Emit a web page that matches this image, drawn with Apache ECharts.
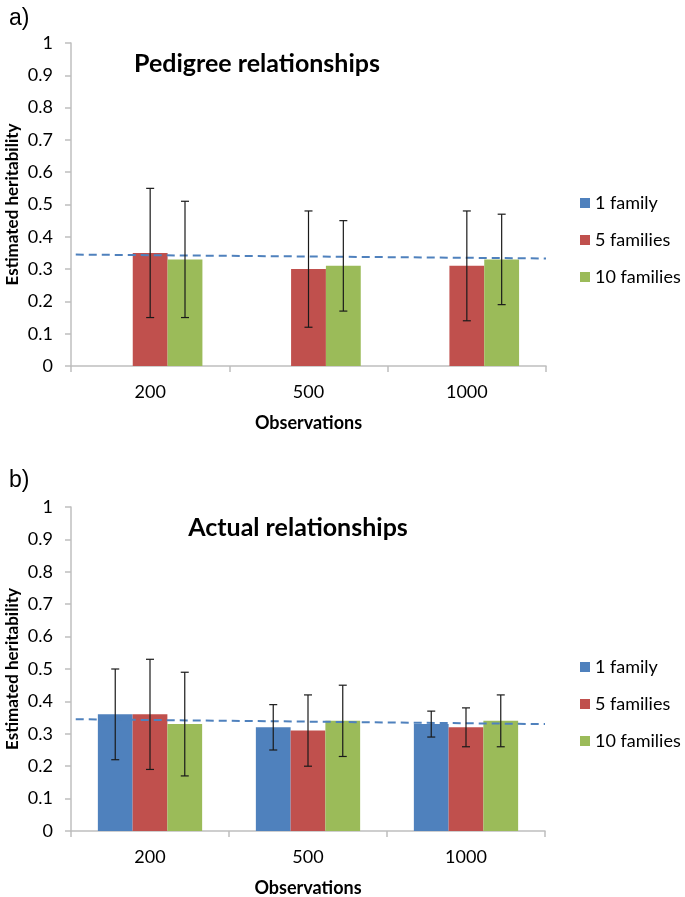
<!DOCTYPE html>
<html><head><meta charset="utf-8">
<script src="https://cdn.jsdelivr.net/npm/echarts@6/dist/echarts.min.js"></script>
<style>html,body{margin:0;padding:0;background:#fff}#c{width:685px;height:897px}</style>
</head><body><div id="c"></div>
<script>
const categories = ['200', '500', '1000'];
const seriesNames = ['1 family', '5 families', '10 families'];
const yTicks = [0, 0.1, 0.2, 0.3, 0.4, 0.5, 0.6, 0.7, 0.8, 0.9, 1];

// Panel a) Pedigree relationships
const pedOne = [null, null, null];
const pedFive = [0.35, 0.30, 0.31];
const pedTen = [0.33, 0.31, 0.33];
const pedOneLow = [null, null, null], pedOneHigh = [null, null, null];
const pedFiveLow = [0.15, 0.12, 0.14], pedFiveHigh = [0.55, 0.48, 0.48];
const pedTenLow = [0.15, 0.17, 0.19], pedTenHigh = [0.51, 0.45, 0.47];
const pedTrend = [0.345, 0.333];

// Panel b) Actual relationships
const actOne = [0.36, 0.32, 0.33];
const actFive = [0.36, 0.31, 0.32];
const actTen = [0.33, 0.34, 0.34];
const actOneLow = [0.22, 0.25, 0.29], actOneHigh = [0.50, 0.39, 0.37];
const actFiveLow = [0.19, 0.20, 0.26], actFiveHigh = [0.53, 0.42, 0.38];
const actTenLow = [0.17, 0.23, 0.26], actTenHigh = [0.49, 0.45, 0.42];
const actTrend = [0.345, 0.330];

const colors = ['#4F81BD', '#C0504D', '#9BBB59'];
const FONT = 'Lato';
const GAP = 0.34;

function errSeries(k, low, high, xi, yi) {
  const data = categories.map((c, i) => [i, low[i], high[i]]).filter(d => d[1] != null);
  return {
    type: 'custom', xAxisIndex: xi, yAxisIndex: yi, z: 10, silent: true,
    data: data,
    renderItem: function (params, api) {
      const ci = api.value(0);
      const lo = api.coord([ci, api.value(1)]);
      const hi = api.coord([ci, api.value(2)]);
      const bw = api.size([1, 0])[0];
      const barW = bw * (1 - GAP) / 3;
      const x = lo[0] + (k - 1) * barW;
      const cap = 4;
      const st = { stroke: '#1a1a1a', lineWidth: 1.2 };
      return { type: 'group', children: [
        { type: 'line', shape: { x1: x, y1: lo[1], x2: x, y2: hi[1] }, style: st },
        { type: 'line', shape: { x1: x - cap, y1: lo[1], x2: x + cap, y2: lo[1] }, style: st },
        { type: 'line', shape: { x1: x - cap, y1: hi[1], x2: x + cap, y2: hi[1] }, style: st }
      ]};
    }
  };
}

function barSeries(k, vals, xi, yi) {
  return { name: seriesNames[k], type: 'bar', xAxisIndex: xi, yAxisIndex: yi,
    data: vals, barGap: '0%', barCategoryGap: (GAP * 100) + '%',
    itemStyle: { color: colors[k] } };
}

function trendSeries(tr, xi, yi) {
  return { type: 'line', xAxisIndex: xi, yAxisIndex: yi, symbol: 'none', silent: true, z: 5,
    data: [[0.03, tr[0]], [3, tr[1]]],
    lineStyle: { color: '#4F81BD', width: 2, type: [8, 5] } };
}

const grids = [
  { left: 71, top: 43, width: 475, height: 323, containLabel: false, outerBoundsMode: 'none' },
  { left: 71, top: 507, width: 474, height: 324, containLabel: false, outerBoundsMode: 'none' }
];

const axisGray = '#BFBFBF';
function catAxis(gi) {
  return { type: 'category', gridIndex: gi, data: categories,
    name: 'Observations', nameLocation: 'middle', nameGap: 48, nameMoveOverlap: false,
    nameTextStyle: { fontFamily: FONT, fontWeight: 'bold', fontSize: 18, color: '#000' },
    axisLine: { lineStyle: { color: axisGray, width: 1.5 } },
    axisTick: { show: true, length: 6, lineStyle: { color: axisGray, width: 1.5 } },
    axisLabel: { fontFamily: FONT, fontSize: 18, color: '#000', margin: 17 } };
}
function hidAxis(gi) {
  return { type: 'value', gridIndex: gi, min: 0, max: 3, show: false };
}
function valAxis(gi) {
  return { type: 'value', gridIndex: gi, min: 0, max: 1, interval: 0.1,
    name: 'Estimated heritability', nameLocation: 'middle', nameGap: 50, nameRotate: 90, nameMoveOverlap: false,
    nameTextStyle: { fontFamily: FONT, fontWeight: 'bold', fontSize: 17, color: '#000' },
    axisLine: { show: true, lineStyle: { color: axisGray, width: 1.5 } },
    axisTick: { show: true, length: 6, lineStyle: { color: axisGray, width: 1.5 } },
    splitLine: { show: false },
    axisLabel: { fontFamily: FONT, fontSize: 18, color: '#000', margin: 18,
      formatter: v => { const t = yTicks.find(x => Math.abs(x - v) < 1e-6); return t === undefined ? '' : String(t); } } };
}

function legend(top) {
  return { orient: 'vertical', left: 575, top: top, itemWidth: 10, itemHeight: 10, itemGap: 19,
    icon: 'rect', data: seriesNames, selectedMode: false,
    textStyle: { fontFamily: FONT, fontSize: 18, color: '#000' } };
}

const option = {
  animation: false,
  title: [
    { text: 'a)', left: 4, top: 2, textStyle: { fontFamily: 'Liberation Sans', fontWeight: 'normal', fontSize: 23, color: '#000' } },
    { text: 'Pedigree relationships', left: 252, top: 46, textAlign: 'center', textStyle: { fontFamily: FONT, fontWeight: 'bold', fontSize: 25, color: '#000' } },
    { text: 'b)', left: 4, top: 464, textStyle: { fontFamily: 'Liberation Sans', fontWeight: 'normal', fontSize: 23, color: '#000' } },
    { text: 'Actual relationships', left: 293, top: 510, textAlign: 'center', textStyle: { fontFamily: FONT, fontWeight: 'bold', fontSize: 25, color: '#000' } }
  ],
  legend: [legend(189), legend(653)],
  grid: grids,
  xAxis: [catAxis(0), catAxis(1), hidAxis(0), hidAxis(1)],
  yAxis: [valAxis(0), valAxis(1)],
  series: [
    barSeries(0, pedOne, 0, 0), barSeries(1, pedFive, 0, 0), barSeries(2, pedTen, 0, 0),
    trendSeries(pedTrend, 2, 0),
    errSeries(0, pedOneLow, pedOneHigh, 0, 0), errSeries(1, pedFiveLow, pedFiveHigh, 0, 0), errSeries(2, pedTenLow, pedTenHigh, 0, 0),
    barSeries(0, actOne, 1, 1), barSeries(1, actFive, 1, 1), barSeries(2, actTen, 1, 1),
    trendSeries(actTrend, 3, 1),
    errSeries(0, actOneLow, actOneHigh, 1, 1), errSeries(1, actFiveLow, actFiveHigh, 1, 1), errSeries(2, actTenLow, actTenHigh, 1, 1)
  ]
};
echarts.init(document.getElementById('c')).setOption(option);
</script></body></html>
